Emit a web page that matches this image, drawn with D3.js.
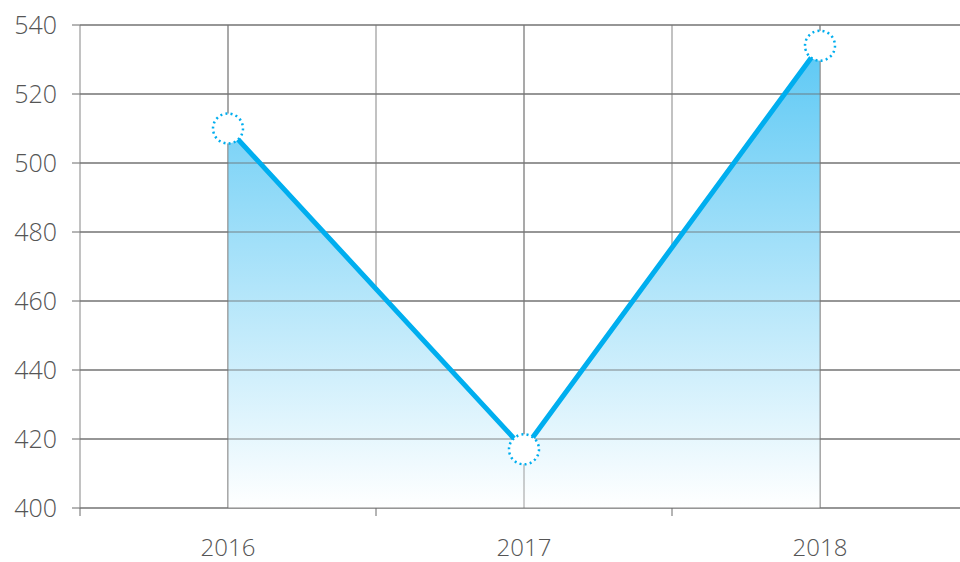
<!DOCTYPE html>
<html><head><meta charset="utf-8">
<script src="https://cdn.jsdelivr.net/npm/d3@7"></script>
<style>body{margin:0;background:#fff}svg{display:block}</style>
</head><body><svg id="c" width="960" height="562"></svg>
<script>
const categories = ["2016", "2017", "2018"];
const values = [510, 417, 534];
const yTicks = [400, 420, 440, 460, 480, 500, 520, 540];

const svg = d3.select("#c");
const pL = 80, pR = 968, pT = 25, pB = 508;
const x = d3.scaleBand().domain(categories).range([pL, pR]).padding(0);
const y = d3.scaleLinear().domain([400, 540]).range([pB, pT]);
const data = categories.map((c, i) => ({c, v: values[i]}));
const cx = d => x(d.c) + x.bandwidth() / 2;

const defs = svg.append("defs");
const g = defs.append("linearGradient").attr("id", "ag")
  .attr("gradientUnits", "userSpaceOnUse").attr("x1", 0).attr("x2", 0)
  .attr("y1", pT).attr("y2", pB);
g.append("stop").attr("offset", "0%").attr("stop-color", "#55c6f4");
g.append("stop").attr("offset", "100%").attr("stop-color", "#ffffff");

// horizontal gridlines
svg.append("g").selectAll("line").data(yTicks).join("line")
  .attr("x1", pL - 8).attr("x2", 960)
  .attr("y1", d => y(d)).attr("y2", d => y(d))
  .attr("stroke", "#6a6a6a").attr("stroke-width", 1);

// vertical gridlines at band edges and centres
const edges = categories.map(c => x(c));
const centres = data.map(cx);
svg.append("g").selectAll("line").data(edges.concat(centres)).join("line")
  .attr("x1", d => d).attr("x2", d => d)
  .attr("y1", pT).attr("y2", pB)
  .attr("stroke", "#858585").attr("stroke-width", 1);
// ticks below axis at band edges
svg.append("g").selectAll("line").data(edges).join("line")
  .attr("x1", d => d).attr("x2", d => d)
  .attr("y1", pB).attr("y2", pB + 8)
  .attr("stroke", "#6a6a6a").attr("stroke-width", 1);

// area
const area = d3.area().x(cx).y0(pB).y1(d => y(d.v));
svg.append("path").datum(data).attr("d", area).attr("fill", "url(#ag)");
// centre gridlines over area
svg.append("g").selectAll("line").data(centres).join("line")
  .attr("x1", d => d).attr("x2", d => d)
  .attr("y1", pT).attr("y2", pB)
  .attr("stroke", "#858585").attr("stroke-width", 1).attr("stroke-opacity", 0.8);
// horizontal gridlines redrawn over area
svg.append("g").selectAll("line").data(yTicks).join("line")
  .attr("x1", pL).attr("x2", 960)
  .attr("y1", d => y(d)).attr("y2", d => y(d))
  .attr("stroke", "#6a6a6a").attr("stroke-width", 1).attr("stroke-opacity", 0.8);

// line
const line = d3.line().x(cx).y(d => y(d.v));
svg.append("path").datum(data).attr("d", line)
  .attr("fill", "none").attr("stroke", "#00aeef").attr("stroke-width", 5);

// markers
svg.append("g").selectAll("circle").data(data).join("circle")
  .attr("cx", cx).attr("cy", d => y(d.v)).attr("r", 15)
  .attr("fill", "#fff").attr("stroke", "#00aeef").attr("stroke-width", 2.5)
  .attr("stroke-dasharray", "2 3.2");

const font = "'Open Sans', sans-serif";
// y labels
svg.append("g").selectAll("text").data(yTicks).join("text")
  .attr("x", 57).attr("y", d => y(d)).attr("dy", "0.35em")
  .attr("text-anchor", "end").attr("fill", "#555")
  .style("font-family", font).style("font-weight", 300).style("font-size", "25px")
  .text(d => d);
// x labels
svg.append("g").selectAll("text").data(data).join("text")
  .attr("x", cx).attr("y", 548).attr("dy", "0.35em")
  .attr("text-anchor", "middle").attr("fill", "#555")
  .style("font-family", font).style("font-weight", 300).style("font-size", "24px")
  .text(d => d.c);
</script></body></html>
